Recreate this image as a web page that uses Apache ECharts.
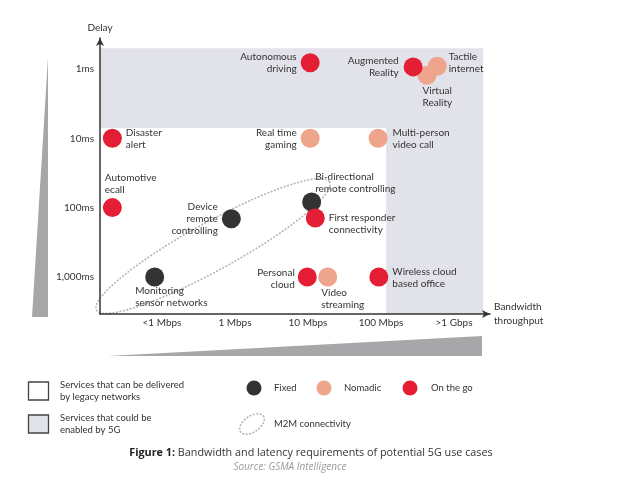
<!DOCTYPE html>
<html><head><meta charset="utf-8">
<script src="https://cdn.jsdelivr.net/npm/echarts@6/dist/echarts.min.js"></script>
<style>html,body{margin:0;padding:0;background:#fff}#c{width:625px;height:492px}</style>
</head><body><div id="c"></div>
<script>
// ---- tick labels (x in log10 Mbps, y in log10 ms) ----
const xTickValues = [-1, 0, 1, 2, 3];
const xTickLabels = ['<1 Mbps', '1 Mbps', '10 Mbps', '100 Mbps', '>1 Gbps'];
const yTickValues = [0, 1, 2, 3];
const yTickLabels = ['1ms', '10ms', '100ms', '1,000ms'];

// ---- use cases ----
const useCases = [
  'Autonomous\ndriving', 'Augmented\nReality', 'Virtual\nReality', 'Tactile\ninternet',
  'Disaster\nalert', 'Real time\ngaming', 'Multi-person\nvideo call',
  'Automotive\necall', 'Device\nremote\ncontrolling', 'Bi-directional\nremote controlling',
  'First responder\nconnectivity', 'Monitoring\nsensor networks', 'Personal\ncloud',
  'Video\nstreaming', 'Wireless cloud\nbased office'
];
const bandwidth = [1.03, 2.44, 2.63, 2.77, -1.68, 1.03, 1.96, -1.68, -0.05, 1.05, 1.10, -1.10, 0.99, 1.27, 1.97];
const delay     = [-0.09, -0.03, 0.09, -0.04, 1, 1, 1, 2, 2.16, 1.92, 2.15, 3, 3, 3, 3];
const mobility  = ['On the go', 'On the go', 'Nomadic', 'Nomadic', 'On the go', 'Nomadic', 'Nomadic',
  'On the go', 'Fixed', 'Fixed', 'On the go', 'Fixed', 'On the go', 'Nomadic', 'On the go'];
const mobilityTypes = ['Fixed', 'Nomadic', 'On the go'];

// zone boundaries (same units as axes)
const legacyBandwidthLimit = 2.07;
const legacyDelayLimit = 0.85;
const zoneTopDelay = -0.30;
const zoneRightBandwidth = 3.40;

// ---- styles ----
const colors = { 'Fixed': '#333333', 'Nomadic': '#efa58c', 'On the go': '#e41e35' };
const FONT = 'Lato';
const TXT = '#333333';
const X_MIN = -1.849, X_MAX = 3.493, Y_MIN = -0.447, Y_MAX = 3.535;

const labelPlacement = {
  'Autonomous\ndriving': { position: 'left', distance: 4 },
  'Augmented\nReality': { position: 'left', distance: 5 },
  'Tactile\ninternet': { position: 'right', distance: 2, offset: [0, -3] },
  'Virtual\nReality': { position: [5, 19], align: 'left', verticalAlign: 'top' },
  'Disaster\nalert': { position: 'right', distance: 4 },
  'Real time\ngaming': { position: 'left', distance: 4 },
  'Multi-person\nvideo call': { position: 'right', distance: 5 },
  'Automotive\necall': { position: [2, -26], align: 'left', verticalAlign: 'top' },
  'Device\nremote\ncontrolling': { position: 'left', distance: 4 },
  'Bi-directional\nremote controlling': { position: [13, -22], align: 'left', verticalAlign: 'top' },
  'First responder\nconnectivity': { position: 'right', distance: 4, offset: [0, 6] },
  'Monitoring\nsensor networks': { position: [-10, 17], align: 'left', verticalAlign: 'top' },
  'Personal\ncloud': { position: 'left', distance: 3, offset: [0, 2] },
  'Video\nstreaming': { position: [3, 19], align: 'left', verticalAlign: 'top' },
  'Wireless cloud\nbased office': { position: 'right', distance: 4, offset: [0, 1] }
};

function buildSeries(type) {
  const data = [];
  useCases.forEach((n, i) => {
    if (mobility[i] === type) {
      data.push({ name: n, value: [bandwidth[i], delay[i]], label: Object.assign({ show: true }, labelPlacement[n]) });
    }
  });
  return {
    type: 'scatter', name: type, symbolSize: 19, z: 3,
    itemStyle: { color: colors[type], opacity: 1 },
    label: { show: true, formatter: '{b}', color: TXT, fontSize: 10, lineHeight: 12, fontFamily: FONT },
    emphasis: { disabled: true },
    data
  };
}

// dotted ellipse outline as polygon points (decoration)
function ellipsePoints(cx, cy, a, b, ang, n) {
  const pts = [];
  const c = Math.cos(ang), s = Math.sin(ang);
  for (let i = 0; i < n; i++) {
    const t = i / n * Math.PI * 2;
    const ex = a * Math.cos(t), ey = b * Math.sin(t);
    pts.push([cx + ex * c + ey * s, cy - ex * s + ey * c]);
  }
  return pts;
}

const chart = echarts.init(document.getElementById('c'), null, { renderer: 'canvas' });

const series = [{
  type: 'scatter', name: 'zones', data: [], silent: true, z: 1,
  markArea: {
    silent: true,
    itemStyle: { color: '#e2e2ea' },
    data: [
      [{ coord: [X_MIN, zoneTopDelay] }, { coord: [zoneRightBandwidth, legacyDelayLimit] }],
      [{ coord: [legacyBandwidthLimit, legacyDelayLimit] }, { coord: [zoneRightBandwidth, Y_MAX] }]
    ]
  }
}].concat(mobilityTypes.map(buildSeries));

const legendText = { fill: TXT, fontSize: 9.5, fontFamily: FONT };
const dotted = { fill: 'none', stroke: '#b4b4b4', lineWidth: 1.7, lineDash: [0.5, 3], lineCap: 'round' };

chart.setOption({
  animation: false,
  grid: { left: 100, top: 38, width: 390, height: 276 },
  xAxis: {
    type: 'value', min: X_MIN, max: X_MAX, z: 10,
    axisLine: { show: true, onZero: false, lineStyle: { color: '#333', width: 1.5 }, symbol: ['none', 'arrow'], symbolSize: [6, 8] },
    axisTick: { show: false }, splitLine: { show: false },
    axisLabel: {
      customValues: xTickValues, margin: 4, color: TXT, fontSize: 10, fontFamily: FONT,
      formatter: v => xTickLabels[xTickValues.indexOf(v)]
    },
    name: 'Bandwidth\nthroughput', nameLocation: 'end', nameGap: 4,
    nameTextStyle: { align: 'left', verticalAlign: 'middle', color: TXT, fontSize: 10, lineHeight: 14, fontFamily: FONT }
  },
  yAxis: {
    type: 'value', inverse: true, min: Y_MIN, max: Y_MAX, z: 10,
    axisLine: { show: true, onZero: false, lineStyle: { color: '#333', width: 1.5 }, symbol: ['none', 'arrow'], symbolSize: [6, 8] },
    axisTick: { show: false }, splitLine: { show: false },
    axisLabel: {
      customValues: yTickValues, margin: 6, color: TXT, fontSize: 10, fontFamily: FONT,
      formatter: v => yTickLabels[yTickValues.indexOf(v)]
    },
    name: 'Delay', nameLocation: 'start', nameGap: 5,
    nameTextStyle: { color: TXT, fontSize: 10, fontFamily: FONT, align: 'center' }
  },
  series,
  graphic: [
    // left wedge
    { type: 'polygon', shape: { points: [[48, 57], [48, 317], [32, 317]] }, style: { fill: '#a7a7a9' }, silent: true },
    // bottom wedge
    { type: 'polygon', shape: { points: [[108, 356], [482, 336], [482, 356]] }, style: { fill: '#a7a7a9' }, silent: true },
    // M2M ellipse
    { type: 'polygon', shape: { points: ellipsePoints(213, 246, 133, 24, 0.503, 120) }, style: dotted, silent: true, z: 2 },
    // legend: zones
    { type: 'rect', shape: { x: 28.5, y: 382, width: 20, height: 18 }, style: { fill: '#fff', stroke: '#444', lineWidth: 1.3 } },
    { type: 'text', style: Object.assign({ text: 'Services that can be delivered\nby legacy networks', x: 60, y: 391, verticalAlign: 'middle', lineHeight: 12 }, legendText) },
    { type: 'rect', shape: { x: 28.5, y: 415, width: 20, height: 18 }, style: { fill: '#e2e2ea', stroke: '#444', lineWidth: 1.3 } },
    { type: 'text', style: Object.assign({ text: 'Services that could be\nenabled by 5G', x: 60, y: 424, verticalAlign: 'middle', lineHeight: 12 }, legendText) },
    // legend: mobility
    { type: 'circle', shape: { cx: 254, cy: 388, r: 7.5 }, style: { fill: colors['Fixed'] } },
    { type: 'text', style: Object.assign({ text: 'Fixed', x: 274, y: 388, verticalAlign: 'middle' }, legendText) },
    { type: 'circle', shape: { cx: 324, cy: 388, r: 7.5 }, style: { fill: colors['Nomadic'] } },
    { type: 'text', style: Object.assign({ text: 'Nomadic', x: 344, y: 388, verticalAlign: 'middle' }, legendText) },
    { type: 'circle', shape: { cx: 410, cy: 388, r: 7.5 }, style: { fill: colors['On the go'] } },
    { type: 'text', style: Object.assign({ text: 'On the go', x: 431, y: 388, verticalAlign: 'middle' }, legendText) },
    { type: 'polygon', shape: { points: ellipsePoints(252, 424, 14, 8, 0.6, 40) }, style: dotted },
    { type: 'text', style: Object.assign({ text: 'M2M connectivity', x: 274, y: 424, verticalAlign: 'middle' }, legendText) },
    // caption
    { type: 'text', style: {
        text: '{b|Figure 1:} Bandwidth and latency requirements of potential 5G use cases',
        x: 311, y: 453, align: 'center', verticalAlign: 'middle', fill: '#333', fontSize: 10.8, fontFamily: 'Open Sans',
        rich: { b: { fontWeight: 'bold', fontSize: 10.8, fontFamily: 'Open Sans', fill: '#222' } } } },
    { type: 'text', style: { text: 'Source: GSMA Intelligence', x: 290, y: 467, align: 'center', verticalAlign: 'middle',
        fill: '#9a9a9a', fontSize: 10, fontStyle: 'italic', fontFamily: 'Open Sans' } }
  ]
});
</script>
</body></html>
